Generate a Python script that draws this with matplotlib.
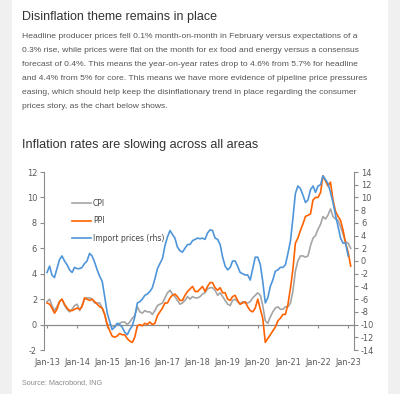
import numpy as np
import pandas as pd
import matplotlib
matplotlib.use('Agg')
import matplotlib.pyplot as plt
import matplotlib.dates as mdates
from matplotlib.patches import Rectangle

# monthly, Jan-13 .. Feb-23 (lhs, %YoY)
cpi = [1.8, 2.0, 1.5, 1.1, 1.4, 1.8, 2.0, 1.5, 1.2, 1.0, 1.2, 1.5,
       1.6, 1.1, 1.5, 2.0, 2.1, 2.1, 2.0, 1.7, 1.7, 1.7, 1.3, 0.8,
       -0.1, 0.0, -0.1, -0.2, 0.0, 0.1, 0.2, 0.2, 0.0, 0.2, 0.5, 0.7,
       1.4, 1.0, 0.9, 1.1, 1.0, 1.0, 0.8, 1.1, 1.5, 1.6, 1.7, 2.1,
       2.5, 2.7, 2.4, 2.2, 1.9, 1.6, 1.7, 1.9, 2.2, 2.0, 2.2, 2.1,
       2.1, 2.2, 2.4, 2.5, 2.8, 2.9, 2.9, 2.7, 2.3, 2.5, 2.2, 1.9,
       1.6, 1.5, 1.9, 2.0, 1.8, 1.6, 1.8, 1.7, 1.7, 1.8, 2.1, 2.3,
       2.5, 2.3, 1.5, 0.3, 0.1, 0.6, 1.0, 1.3, 1.4, 1.2, 1.2, 1.4,
       1.4, 1.7, 2.6, 4.2, 5.0, 5.4, 5.4, 5.3, 5.4, 6.2, 6.8, 7.0,
       7.5, 7.9, 8.5, 8.3, 8.6, 9.1, 8.5, 8.3, 8.2, 7.7, 7.1, 6.5,
       6.4, 6.0]
ppi = [1.7, 1.6, 1.3, 0.9, 1.2, 1.8, 2.0, 1.6, 1.3, 1.1, 1.1, 1.2,
       1.3, 1.2, 1.4, 2.1, 2.0, 1.9, 2.0, 1.8, 1.6, 1.4, 1.3, 0.8,
       0.0, -0.5, -0.9, -1.0, -0.9, -0.7, -0.8, -0.8, -1.1, -1.3, -1.4, -1.0,
       -0.1, 0.0, -0.1, 0.1, 0.0, 0.2, 0.0, 0.1, 0.7, 1.0, 1.3, 1.7,
       1.7, 2.1, 2.3, 2.4, 2.2, 1.9, 1.9, 2.3, 2.6, 2.8, 3.0, 2.6,
       2.6, 2.8, 3.0, 2.6, 3.0, 3.3, 3.3, 2.9, 2.7, 2.9, 2.5, 2.5,
       2.0, 1.9, 2.2, 2.3, 1.9, 1.6, 1.7, 1.8, 1.4, 1.1, 1.0, 1.3,
       2.0, 1.2, 0.5, -1.4, -1.1, -0.8, -0.5, -0.2, 0.3, 0.5, 0.8, 0.8,
       1.6, 2.9, 4.3, 6.4, 6.8, 7.4, 7.9, 8.5, 8.6, 8.7, 9.8, 10.0,
       10.0, 10.4, 11.7, 11.3, 10.9, 11.2, 9.8, 8.9, 8.5, 8.2, 7.4, 6.4,
       5.7, 4.6]
# monthly, Jan-13 .. Jan-23 (rhs, %YoY)
imports = [-1.8, -0.8, -2.2, -2.6, -1.2, 0.2, 0.8, 0.0, -0.6, -1.4, -1.8, -1.0,
           -1.2, -1.2, -1.0, -0.4, 0.0, 1.2, 0.8, -0.2, -1.4, -2.4, -3.2, -5.6,
           -8.2, -9.6, -10.8, -10.4, -9.8, -10.0, -10.4, -11.2, -11.6, -10.8, -10.2, -8.8,
           -6.6, -6.4, -6.0, -5.4, -5.2, -4.8, -4.2, -2.8, -1.2, -0.4, 0.4, 2.4,
           3.8, 4.8, 4.2, 3.6, 2.2, 1.6, 1.4, 2.0, 2.6, 2.6, 3.2, 3.4,
           3.6, 3.5, 3.6, 3.4, 4.4, 4.9, 4.8, 3.6, 3.4, 2.6, 0.6, -0.8,
           -1.4, -1.0, 0.0, 0.0, -0.8, -1.8, -2.0, -2.2, -2.2, -3.0, -1.2, 0.6,
           0.6, -0.6, -3.2, -6.6, -5.8, -4.0, -3.0, -1.6, -1.4, -1.0, -1.0, -0.6,
           1.2, 3.2, 6.6, 10.6, 11.8, 11.4, 10.4, 9.2, 9.6, 11.2, 11.8, 10.8,
           11.8, 12.0, 13.4, 12.8, 12.2, 10.8, 9.2, 7.2, 5.4, 3.6, 2.8, 2.8,
           0.8]

heading = 'Disinflation theme remains in place'
para = [
    'Headline producer prices fell 0.1% month-on-month in February versus expectations of a',
    '0.3% rise, while prices were flat on the month for ex food and energy versus a consensus',
    'forecast of 0.4%. This means the year-on-year rates drop to 4.6% from 5.7% for headline',
    'and 4.4% from 5% for core. This means we have more evidence of pipeline price pressures',
    'easing, which should help keep the disinflationary trend in place regarding the consumer',
    'prices story, as the chart below shows.',
]
title = 'Inflation rates are slowing across all areas'
source = 'Source: Macrobond, ING'

C_CPI = '#a5a5a5'
C_PPI = '#ff6200'
C_IMP = '#4f95d9'
AX_COL = '#8c8c8c'
TXT = '#595959'
NARROW = ['Liberation Sans Narrow', 'DejaVu Sans']

plt.rcParams['font.family'] = ['Liberation Sans', 'DejaVu Sans']
plt.rcParams['axes.unicode_minus'] = False

W, H = 400, 394
fig = plt.figure(figsize=(W / 100, H / 100), dpi=100, facecolor='#f0f0f0')
fig.patches.append(Rectangle((12 / W, 0), 376 / W, 1, transform=fig.transFigure,
                             facecolor='white', edgecolor='none', zorder=-5))

fig.text(22 / W, 1 - 17 / H, heading, fontsize=9, color='#333333', va='center')
for i, line in enumerate(para):
    fig.text(22 / W, 1 - (37 + 14 * i) / H, line, fontsize=6.1, color='#555555', va='center')
fig.text(22 / W, 1 - 145 / H, title, fontsize=9.1, color='#333333', va='center')
fig.text(22 / W, 1 - 383 / H, source, fontsize=5.25, color='#8a8a8a', va='center')

dates_l = pd.date_range('2013-01-01', periods=len(cpi), freq='MS')
dates_r = pd.date_range('2013-01-01', periods=len(imports), freq='MS')

ax = fig.add_axes([44 / W, 1 - 350 / H, 310 / W, 178 / H])
ax.set_facecolor('none')
axr = ax.twinx()

ax.plot(dates_l, cpi, color=C_CPI, lw=1.2, label='CPI', zorder=3)
ax.plot(dates_l, ppi, color=C_PPI, lw=1.2, label='PPI', zorder=4)
axr.plot(dates_r, imports, color=C_IMP, lw=1.2, label='Import prices (rhs)')

ax.set_ylim(-2, 12)
axr.set_ylim(-14, 14)
ax.set_yticks(np.arange(-2, 13, 2))
axr.set_yticks(np.arange(-14, 15, 2))
ax.set_xlim(pd.Timestamp('2012-11-25'), pd.Timestamp('2023-03-13'))

ax.xaxis.set_major_locator(mdates.YearLocator())
ax.xaxis.set_major_formatter(mdates.DateFormatter('%b-%y'))

for a in (ax, axr):
    for s in a.spines.values():
        s.set_visible(False)
ax.spines['left'].set_visible(True)
ax.spines['left'].set_color(AX_COL)
axr.spines['right'].set_visible(True)
axr.spines['right'].set_color(AX_COL)

ax.tick_params(axis='y', colors=AX_COL, labelcolor=TXT, labelsize=5.9, length=3, width=0.8, pad=2)
axr.tick_params(axis='y', colors=AX_COL, labelcolor=TXT, labelsize=5.9, length=3, width=0.8, pad=2)
ax.tick_params(axis='x', length=0, labelcolor=TXT, labelsize=5.9, pad=6)
for lab in ax.get_xticklabels() + ax.get_yticklabels() + axr.get_yticklabels():
    lab.set_family(NARROW)

# zero line with small year ticks
zero = ax.secondary_xaxis(2 / 14)
zero.xaxis.set_major_locator(mdates.YearLocator())
zero.tick_params(axis='x', direction='out', length=2.5, width=0.8, colors=AX_COL, labelbottom=False)
zero.spines['bottom'].set_color(AX_COL)
zero.spines['bottom'].set_linewidth(0.9)

h1, l1 = ax.get_legend_handles_labels()
h2, l2 = axr.get_legend_handles_labels()
leg = axr.legend(h1 + h2, l1 + l2, loc='upper left', bbox_to_anchor=(0.09, 0.851),
                 frameon=False, borderpad=0, borderaxespad=0,
                 handlelength=2.5, handletextpad=0.25,
                 labelspacing=1.15, prop={'family': NARROW, 'size': 5.5})
for t in leg.get_texts():
    t.set_color('#404040')

fig.savefig('out.png', dpi=100, facecolor=fig.get_facecolor())
